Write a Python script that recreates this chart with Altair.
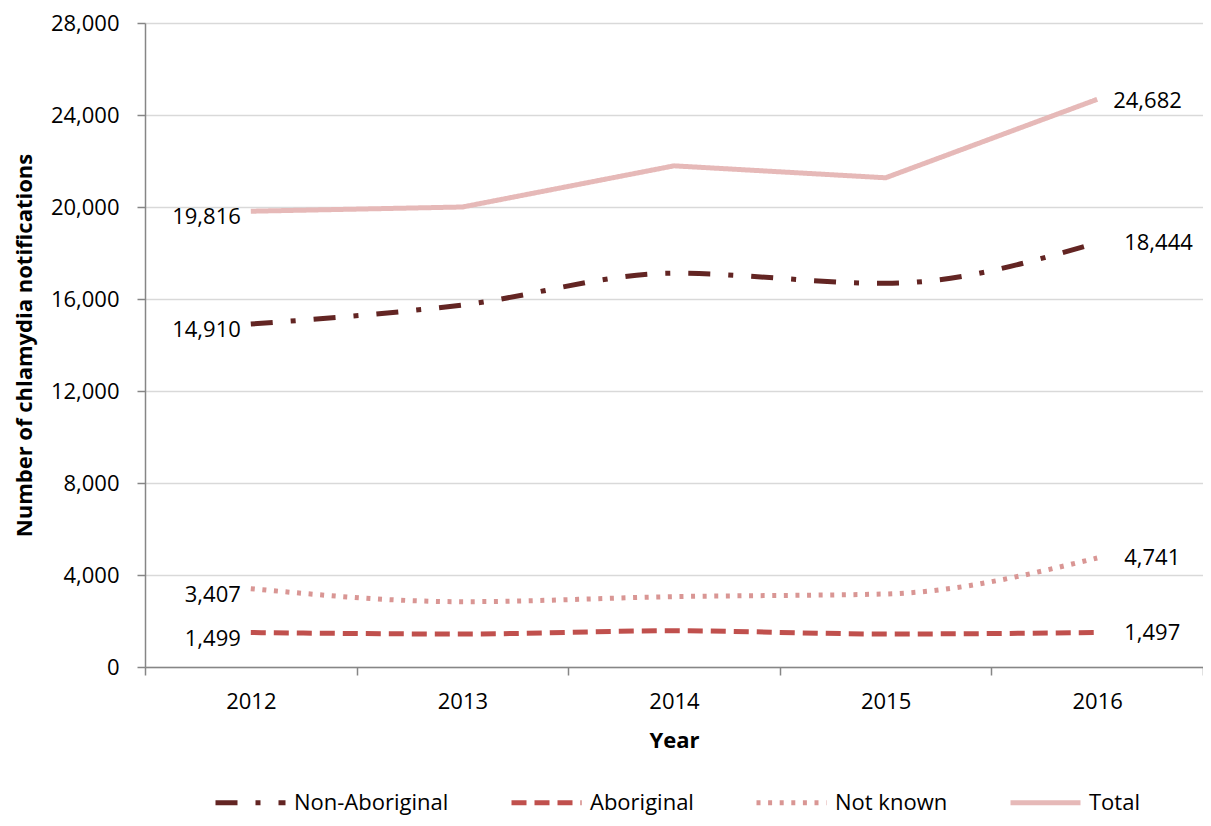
import altair as alt
import pandas as pd

years = ["2012", "2013", "2014", "2015", "2016"]
series_names = ["Non-Aboriginal", "Aboriginal", "Not known", "Total"]
non_aboriginal = [14910, 15740, 17120, 16680, 18444]
aboriginal = [1499, 1435, 1575, 1435, 1497]
not_known = [3407, 2840, 3060, 3175, 4741]
total = [19816, 20000, 21790, 21270, 24682]
y_ticks = [0, 4000, 8000, 12000, 16000, 20000, 24000, 28000]

colors = ["#632523", "#C0504D", "#D99694", "#E6B9B8"]
dashes = [[22, 18, 5, 18], [15, 8], [4, 7.6], [1, 0]]

FONT = "Open Sans"

rows = []
for name, vals in zip(series_names, [non_aboriginal, aboriginal, not_known, total]):
    for i, (yr, v) in enumerate(zip(years, vals)):
        rows.append({"Year": yr, "Group": name, "Value": v,
                     "first": i == 0, "last": i == len(years) - 1})
df = pd.DataFrame(rows)

x_enc = alt.X(
    "Year:O",
    scale=alt.Scale(type="band", paddingInner=0, paddingOuter=0),
    bandPosition=0.5,
    axis=alt.Axis(title="Year", tickBand="extent", labelAngle=0, grid=False,
                  labelPadding=16, titlePadding=18),
)
y_enc = alt.Y(
    "Value:Q",
    scale=alt.Scale(domain=[0, 28000], nice=False),
    axis=alt.Axis(values=y_ticks, format=",.0f", title="Number of chlamydia notifications",
                  labelPadding=18, titlePadding=14, grid=True),
)

legend = alt.Legend(
    title=None, orient="none", direction="horizontal", legendX=68, legendY=742,
    symbolType="stroke", symbolSize=4900, symbolStrokeWidth=5,
    labelFontSize=22, labelFont=FONT, labelColor="black", labelOffset=6,
    columnPadding=52, labelLimit=0,
)
color_enc = alt.Color("Group:N", scale=alt.Scale(domain=series_names, range=colors), legend=legend)
dash_enc = alt.StrokeDash("Group:N", scale=alt.Scale(domain=series_names, range=dashes), legend=legend)

base = alt.Chart(df)

lines_smooth = base.transform_filter(alt.datum.Group != "Total").mark_line(
    interpolate="monotone", strokeWidth=5, strokeJoin="round"
).encode(x=x_enc, y=y_enc, color=color_enc, strokeDash=dash_enc)

lines_total = base.transform_filter(alt.datum.Group == "Total").mark_line(
    strokeWidth=5, strokeJoin="round"
).encode(x=x_enc, y=y_enc, color=color_enc, strokeDash=dash_enc)

text_common = dict(fontSize=22, font=FONT, color="black", baseline="middle")

left_labels = base.transform_filter("datum.first").mark_text(
    align="right", dx=-10, dy=6, **text_common
).encode(x=x_enc, y=y_enc, text=alt.Text("Value:Q", format=","))

right_total = base.transform_filter("datum.last && datum.Group == 'Total'").mark_text(
    align="left", dx=16, dy=2, **text_common
).encode(x=x_enc, y=y_enc, text=alt.Text("Value:Q", format=","))

right_other = base.transform_filter("datum.last && datum.Group != 'Total'").mark_text(
    align="left", dx=27, dy=0, **text_common
).encode(x=x_enc, y=y_enc, text=alt.Text("Value:Q", format=","))

chart = alt.layer(lines_total, lines_smooth, left_labels, right_total, right_other).properties(
    width=1058, height=644,
    autosize=alt.AutoSizeParams(type="none"),
    padding={"left": 137, "top": 15, "right": 0, "bottom": 151},
).configure_view(stroke=None).configure_axis(
    domainColor="#868686", domainWidth=1.5, tickColor="#868686", tickWidth=1.5, tickSize=8,
    gridColor="#D9D9D9", gridWidth=1.5,
    labelFont=FONT, labelFontSize=22, labelColor="black",
    titleFont=FONT, titleFontSize=22, titleFontWeight="bold", titleColor="black",
)

chart.save("out.html", embed_options={"renderer": "svg", "actions": False})
